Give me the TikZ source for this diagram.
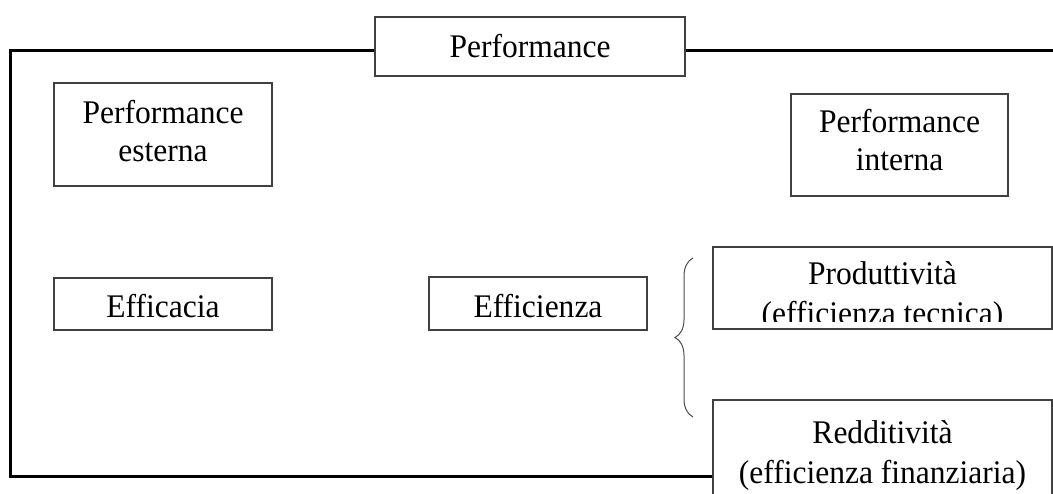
\documentclass[tikz,border=0pt]{standalone}
\usepackage{fontspec}
\setmainfont{Liberation Serif}[FakeStretch=0.955]
\usetikzlibrary{decorations.pathreplacing}

\tikzset{
  box/.style={draw=black!75, line width=1.1pt, rectangle, inner sep=0pt,
              align=center, font=\fontsize{33}{38}\selectfont},
  label/.style={inner sep=0pt, align=center, anchor=base},
  twoline/.style={label, font=\fontsize{33}{38}\selectfont},
  twolinewide/.style={label, font=\fontsize{33}{39.5}\selectfont},
  frame/.style={line width=3pt, black},
  bracket/.style={draw=black!70, line width=1pt,
                  decorate, decoration={brace, amplitude=18pt}}
}

\begin{document}
\begin{tikzpicture}[x=1pt, y=-1pt]
  \useasboundingbox (0,0) rectangle (1053,494);

  % outer frame corners
  \coordinate (tl) at (10,51);
  \coordinate (tr) at (1060,51);
  \coordinate (bl) at (10,476);

  % single-line boxes
  \node[box, minimum width=310pt, minimum height=59pt,
        text height=21.6pt, text depth=0pt] (perf) at (530,46.5) {Performance};
  \node[box, minimum width=218pt, minimum height=52pt,
        text height=28pt, text depth=0pt] (effic) at (163,304) {Efficacia};
  \node[box, minimum width=218pt, minimum height=53pt,
        text height=28pt, text depth=0pt] (effiz) at (538,303.5) {Efficienza};

  % two-line boxes (labels set by the baseline of their last line)
  \node[box, minimum width=218pt, minimum height=103pt] (ext) at (163,134.5) {};
  \node[twoline] (exttext) at (163,161.7) {Performance\\esterna};
  \node[box, minimum width=217pt, minimum height=102pt] (int) at (899.5,145) {};
  \node[twoline] (inttext) at (899.5,171) {Performance\\interna};

  % boxes whose text runs past their lower edge
  \node[box, minimum width=339pt, minimum height=82pt] (prod) at (882.5,288) {};
  \node[box, minimum width=339pt, minimum height=120pt] (redd) at (882.5,460) {};

  \begin{scope}
    \clip (prod.north west) rectangle (prod.east |- 0,321.5);
    \node[twolinewide] (prodtext) at (882.5,324.5)
         {Produttività\\(efficienza tecnica)};
  \end{scope}
  \begin{scope}
    \clip (redd.north west) rectangle (1053,494);
    \node[twolinewide] (reddtext) at (882.5,483)
         {Redditività\\(efficienza finanziaria)};
  \end{scope}

  % brace grouping the two kinds of efficiency
  \coordinate (brlow) at (693,417);
  \coordinate (brhigh) at (693,258);
  \draw[bracket] (brlow) -- (brhigh);

  % outer frame
  \draw[frame] (perf.west |- tl) -- (tl) -- (bl) -- (redd.west |- bl);
  \draw[frame] (perf.east |- tr) -- (tr);
\end{tikzpicture}
\end{document}
